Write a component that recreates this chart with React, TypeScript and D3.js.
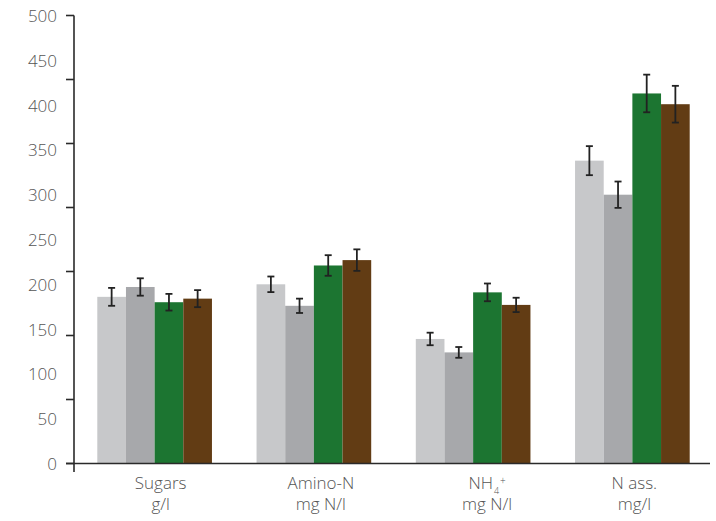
import React from "react";
import * as d3 from "d3";

const categories = ["Sugars", "Amino-N", "NH4", "N ass."];
const series = ["s1", "s2", "s3", "s4"];
const values: number[][] = [
  [186, 197, 180, 184],
  [200, 176, 221, 227],
  [139, 124, 191, 177],
  [338, 300, 413, 401],
];
const errors: number[][] = [
  [10, 9.7, 9.3, 9.5],
  [8.7, 8, 11.5, 12],
  [7, 6, 9.9, 8],
  [16.2, 14.7, 21, 20.5],
];
const yLabels = [0, 50, 100, 150, 200, 250, 300, 350, 400, 450, 500];
const tickCount = 7;
const colors = ["#c7c8ca", "#a7a8ab", "#1c7531", "#623c14"];
const unitLines = ["g/l", "mg N/l", "mg N/l", "mg/l"];
const LABEL_DX = [6, 7, 14, 2];

const W = 716;
const H = 521;

export default function App() {
  const x = d3
    .scaleBand<string>()
    .domain(categories)
    .range([75, 712])
    .paddingInner(0.28)
    .paddingOuter(0.14);
  const xs = d3.scaleBand<string>().domain(series).range([0, x.bandwidth()]).padding(0);
  const y = d3.scaleLinear().domain([0, 500]).range([463.5, 15.5]);
  const tickVals = d3.range(tickCount + 1).map((k) => (k * 500) / tickCount);
  const axisX = 74;
  const font = "'Open Sans', 'Noto Sans', sans-serif";
  const textFill = "#555555";

  return (
    <svg
      width={W}
      height={H}
      style={{ position: "absolute", left: 0, top: 0 }}
      fontFamily={font}
      fontWeight={300}
    >
      <rect width={W} height={H} fill="#fff" />
      {categories.map((c, ci) => (
        <g key={c} transform={`translate(${x(c)},0)`}>
          {series.map((s, si) => {
            const v = values[ci][si];
            const e = errors[ci][si];
            const bx = xs(s)!;
            const cx = bx + xs.bandwidth() / 2;
            return (
              <g key={s}>
                <rect
                  x={bx}
                  y={y(v)}
                  width={xs.bandwidth()}
                  height={y(0) - y(v)}
                  fill={colors[si]}
                />
                <g stroke="#222" strokeWidth={1.8}>
                  <line x1={cx} x2={cx} y1={y(v + e)} y2={y(v - e)} />
                  <line x1={cx - 3.5} x2={cx + 3.5} y1={y(v + e)} y2={y(v + e)} />
                  <line x1={cx - 3.5} x2={cx + 3.5} y1={y(v - e)} y2={y(v - e)} />
                </g>
              </g>
            );
          })}
        </g>
      ))}
      <line x1={axisX} x2={axisX} y1={y(500)} y2={472} stroke="#2a2a2a" strokeWidth={1.6} />
      <line x1={66} x2={710} y1={y(0)} y2={y(0)} stroke="#2a2a2a" strokeWidth={1.6} />
      {tickVals.map((t) => (
        <line key={t} x1={66} x2={axisX} y1={y(t)} y2={y(t)} stroke="#2a2a2a" strokeWidth={1.6} />
      ))}
      {yLabels.map((l) => (
        <text
          key={l}
          x={57}
          y={y(l)}
          textAnchor="end"
          dominantBaseline="central"
          fontSize={17}
          fill={textFill}
        >
          {l}
        </text>
      ))}
      {categories.map((c, ci) => {
        const cx = x(c)! + x.bandwidth() / 2 + LABEL_DX[ci];
        return (
          <g key={c} fill={textFill} fontSize={17} textAnchor="middle">
            {c === "NH4" ? (
              <text x={cx} y={489}>
                NH
                <tspan fontSize={9} dx={1} dy={5}>4</tspan>
                <tspan fontSize={10} dx={1} dy={-10}>+</tspan>
              </text>
            ) : (
              <text x={cx} y={489}>{c}</text>
            )}
            <text x={cx} y={510}>{unitLines[ci]}</text>
          </g>
        );
      })}
    </svg>
  );
}
